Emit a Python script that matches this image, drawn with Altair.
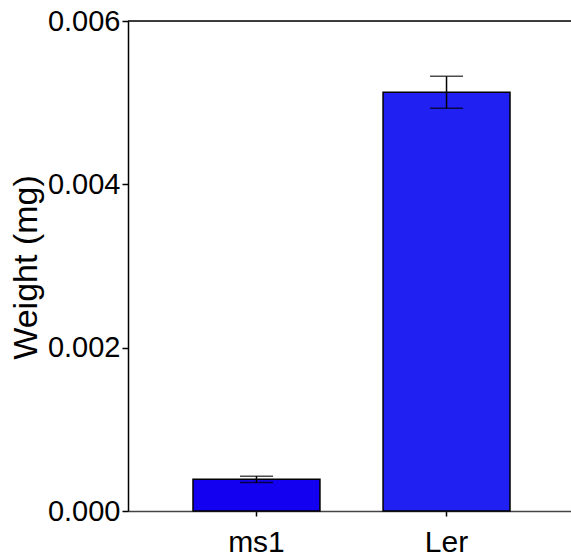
import altair as alt
import pandas as pd

categories = ["ms1", "Ler"]
means = [0.000388, 0.005127]
errs = [0.000039, 0.000195]
colors = ["#1400F0", "#2020F2"]

df = pd.DataFrame({"cat": categories, "mean": means, "err": errs, "color": colors})
df["lo"] = df["mean"] - df["err"]
df["hi"] = df["mean"] + df["err"]

FONT = "Liberation Sans"

x_scale = alt.Scale(paddingInner=0.332, paddingOuter=0.342, range=[0, 447])

x_enc = alt.X("cat:N", sort=categories, scale=x_scale,
              axis=alt.Axis(title=None, labelAngle=0, labelFontSize=30, labelFont=FONT,
                            labelColor="black", domainColor="#444", domainWidth=1.5,
                            tickColor="black", tickSize=5, tickWidth=1.5, labelPadding=11))

y_scale = alt.Scale(domain=[0, 0.006], nice=False)

base = alt.Chart(df)

bars = base.mark_bar(stroke="black", strokeWidth=1.5).encode(
    x=x_enc,
    y=alt.Y("mean:Q", scale=y_scale,
            axis=alt.Axis(title="Weight (mg)", values=[0, 0.002, 0.004, 0.006], format=".3f",
                          grid=False, labelFontSize=29, labelFont=FONT, labelColor="black",
                          titleFontSize=34, titleFont=FONT, titleFontWeight="normal",
                          titleColor="black", titleX=-92, titleY=246,
                          titleBaseline="alphabetic",
                          domainColor="black", domainWidth=1.5, tickColor="black",
                          tickSize=6, tickWidth=1.5, labelPadding=2)),
    color=alt.Color("color:N", scale=None),
)

rules = base.mark_rule(color="black", strokeWidth=1.5).encode(
    x=alt.X("cat:N", sort=categories), y=alt.Y("lo:Q", scale=y_scale), y2="hi:Q")

cap_hi = base.mark_tick(color="black", thickness=1.5, size=33, orient="horizontal").encode(
    x=alt.X("cat:N", sort=categories), y=alt.Y("hi:Q", scale=y_scale))
cap_lo = base.mark_tick(color="black", thickness=1.5, size=33, orient="horizontal").encode(
    x=alt.X("cat:N", sort=categories), y=alt.Y("lo:Q", scale=y_scale))

top_line = alt.Chart(pd.DataFrame({"v": [0.006]})).mark_rule(color="black", strokeWidth=1.5).encode(
    y=alt.Y("v:Q", scale=y_scale))

chart = alt.layer(bars, rules, cap_hi, cap_lo, top_line).properties(
    width=443, height=490,
    autosize=alt.AutoSizeParams(type="none"),
    padding={"left": 128, "top": 21, "right": 0, "bottom": 48},
).configure_view(stroke=None).configure(background="white")

chart.save("out.html", embed_options={"renderer": "svg", "actions": False})
